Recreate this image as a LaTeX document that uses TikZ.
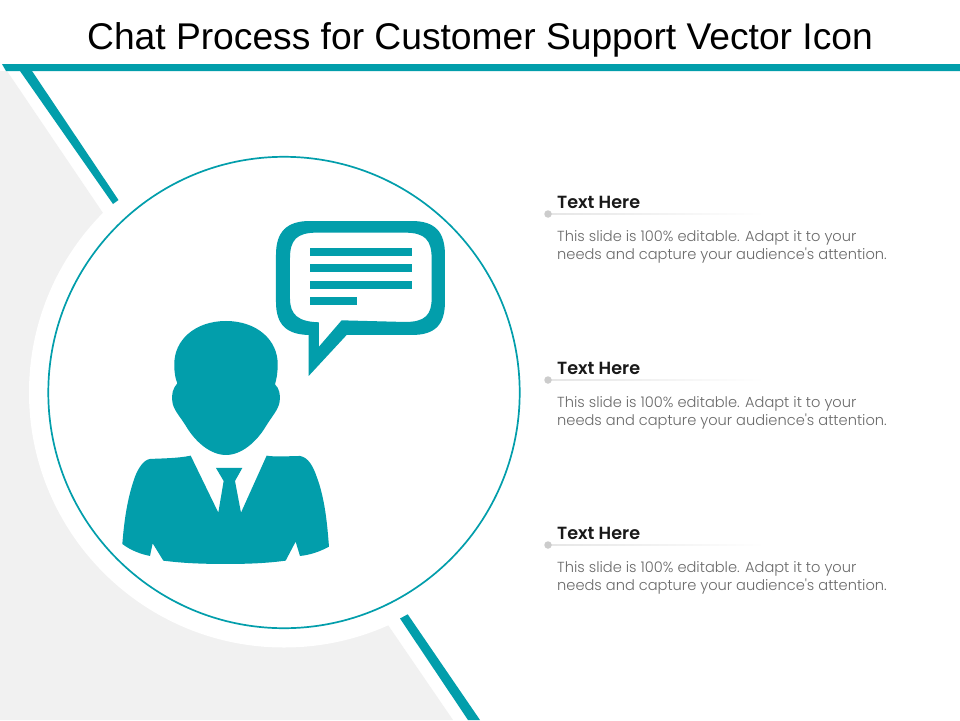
\documentclass[tikz,border=0pt]{standalone}
\usepackage{fontspec}
\setmainfont{Liberation Sans}
\newfontfamily\headfont{Poppins SemiBold}
\newfontfamily\bodyfont{Poppins Light}
\definecolor{teal1}{HTML}{029EAB}
\definecolor{pale}{HTML}{F1F1F1}
\definecolor{bodygray}{HTML}{6A6A6A}
\tikzset{
  tealfill/.style={fill=teal1,draw=none},
  headtext/.style={anchor=west,inner sep=0pt,font=\headfont\fontsize{17.6}{20}\selectfont,text=black!90},
  bodytext/.style={anchor=west,inner sep=0pt,font=\bodyfont\fontsize{14.6}{18}\selectfont,text=bodygray},
  dotmark/.style={circle,fill=black!20,draw=none,minimum size=7.5pt,inner sep=0pt}
}
\begin{document}
\begin{tikzpicture}[x=1pt,y=-1pt]
\useasboundingbox (0,0) rectangle (960,720);
\fill[white] (0,0) rectangle (960,720);
% pale background shape
\fill[pale] (0,71) -- (7,71) -- (103,213) -- (388,625) -- (453,720) -- (0,720) -- cycle;
\fill[white] (284,392.5) circle (255);
% teal bars
\fill[tealfill] (2,64) -- (960,64) -- (960,71) -- (6,71) -- cycle;
\fill[tealfill] (20,71) -- (32,71) -- (118.5,200) -- (113,204) -- cycle;
\fill[tealfill] (400,618.5) -- (407.7,614.3) -- (480,720) -- (468,720) -- cycle;
% circle
\draw[teal1,line width=1.7pt] (284,392.5) circle (235.7);
% title
\node[inner sep=0pt,font=\fontsize{37.2}{40}\selectfont,text=black] (title) at (480,40) {Chat Process for Customer Support Vector Icon};
% person and bubble, in crop units
\begin{scope}[shift={(100,200)},x=0.3333pt,y=-0.3333pt]
% head
\fill[tealfill] (378,363)
  .. controls (470,363) and (535,420) .. (533,495)
  .. controls (533,520) and (530,535) .. (525,553)
  .. controls (538,565) and (542,585) .. (539,605)
  .. controls (535,630) and (515,650) .. (497,680)
  .. controls (470,725) and (425,765) .. (378,765)
  .. controls (331,765) and (286,725) .. (259,680)
  .. controls (241,650) and (220,630) .. (217,605)
  .. controls (214,585) and (218,565) .. (232,550)
  .. controls (226,535) and (223,520) .. (223,495)
  .. controls (221,420) and (286,363) .. (378,363) -- cycle;
% torso with tie
\fill[tealfill] (272,767) -- (355,938) -- (371,843) -- (348,804) -- (427,804) -- (405,843) -- (423,938) -- (500,767)
  .. controls (530,772) and (570,768) .. (600,768)
  .. controls (625,772) and (640,800) .. (650,830)
  .. controls (675,895) and (682,975) .. (687,1040)
  .. controls (660,1055) and (630,1065) .. (600,1068)
  -- (587,1025) -- (557,1082)
  .. controls (500,1090) and (440,1092) .. (380,1092)
  .. controls (310,1092) and (250,1090) .. (190,1082)
  -- (158,1030) -- (150,1068)
  .. controls (120,1062) and (90,1050) .. (67,1032)
  .. controls (72,970) and (80,900) .. (105,830)
  .. controls (115,805) and (130,780) .. (150,777)
  .. controls (190,775) and (235,775) .. (272,767) -- cycle;
% bubble
\fill[tealfill,even odd rule] (630,63) -- (935,63)
  .. controls (1005,63) and (1035,95) .. (1035,165)
  -- (1035,305)
  .. controls (1035,375) and (1005,405) .. (935,405)
  -- (740,405) -- (626,528) -- (626,405)
  .. controls (560,403) and (528,375) .. (528,305)
  -- (528,165)
  .. controls (528,95) and (560,63) .. (630,63) -- cycle
  (650,98) -- (915,98)
  .. controls (975,98) and (995,120) .. (995,175)
  -- (995,295)
  .. controls (995,345) and (975,366) .. (915,366)
  -- (725,361) -- (657,440) -- (657,367)
  .. controls (595,365) and (570,345) .. (570,295)
  -- (570,175)
  .. controls (570,120) and (590,98) .. (650,98) -- cycle;
\fill[tealfill] (630,144) rectangle (936,168);
\fill[tealfill] (630,192) rectangle (936,216);
\fill[tealfill] (630,243) rectangle (936,267);
\fill[tealfill] (630,291) rectangle (771,315);
\end{scope}
% text rows
\foreach \n/\yy in {a/0,b/166,c/331}{
  \begin{scope}[yshift=-\yy pt]
  \fill[left color=black!10,right color=white,draw=none] (548,213.5) rectangle (765,214.5);
  \node[dotmark] (dot\n) at (548,214) {};
  \node[headtext] (head\n) at (557,202) {Text Here};
  \node[bodytext] (bodyone\n) at (557,238) {This slide is 100\% editable. Adapt it to your};
  \node[bodytext] (bodytwo\n) at (557,255.5) {needs and capture your audience's attention.};
  \end{scope}
}
\end{tikzpicture}
\end{document}
